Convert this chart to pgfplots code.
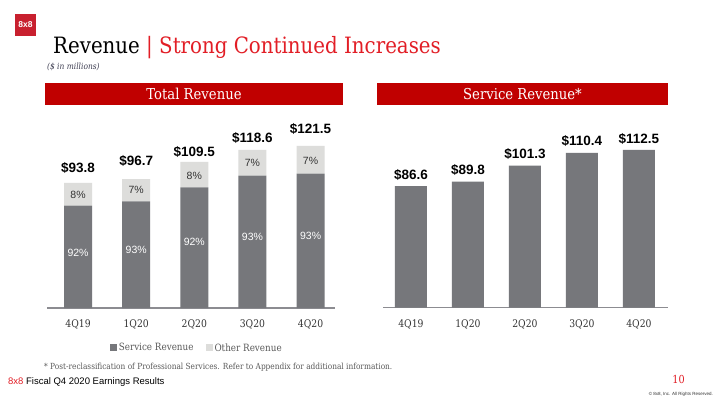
\documentclass[border=0pt]{standalone}
\usepackage{fontspec}
\usepackage{pgfplots}
\pgfplotsset{compat=1.18}
\setmainfont{DejaVu Serif}[FakeStretch=0.88]
\newfontfamily\sans{Liberation Sans}
\definecolor{barDark}{RGB}{118,119,123}
\definecolor{barLight}{RGB}{221,221,219}
\definecolor{hdrRed}{RGB}{192,0,0}
\definecolor{ttlRed}{RGB}{226,30,38}
\definecolor{logoRed}{RGB}{200,32,47}
\definecolor{axGray}{RGB}{140,140,145}
\definecolor{txtDark}{RGB}{51,51,51}
\definecolor{txtGray}{RGB}{89,89,89}
\definecolor{subDark}{RGB}{60,60,80}
\begin{document}
\begin{tikzpicture}
\path[fill=white] (0pt,0pt) rectangle (720pt,405pt);
% logo
\fill[logoRed] (15pt,369pt) rectangle (36pt,391pt);
\node[white,font=\sans\bfseries\fontsize{8.5}{9}\selectfont] at (25.5pt,380pt) {8x8};
% title
\node[anchor=base west, inner sep=0pt, font=\fontsize{22.5}{26}\selectfont] at (53pt,351pt) {Revenue \textcolor{ttlRed}{| Strong Continued Increases}};
\node[anchor=base west, inner sep=0pt, text=subDark, font=\itshape\fontsize{8.5}{9}\selectfont] at (47pt,335pt) {(\$ in millions)};
% headers
\fill[hdrRed] (45pt,300pt) rectangle (343pt,322pt);
\node[white, font=\fontsize{15}{17}\selectfont] at (194pt,311pt) {Total Revenue};
\fill[hdrRed] (377pt,300pt) rectangle (668pt,322pt);
\node[white, font=\fontsize{15}{17}\selectfont] at (522.5pt,311pt) {Service Revenue*};
% footnote & footer
\node[anchor=base west, inner sep=0pt, text=txtGray, font=\fontsize{8.4}{9}\selectfont] at (44pt,36pt) {* Post-reclassification of Professional Services. Refer to Appendix for additional information.};
\node[anchor=base west, inner sep=0pt, font=\sans\fontsize{9.5}{10}\selectfont] at (8pt,21pt) {\textcolor{ttlRed}{8x8} Fiscal Q4 2020 Earnings Results};
\node[anchor=base east, inner sep=0pt, text=ttlRed, font=\fontsize{11}{12}\selectfont] at (685pt,22pt) {10};
\node[anchor=base east, inner sep=0pt, text=txtDark, font=\sans\fontsize{4.5}{5}\selectfont] at (713pt,10pt) {\textcopyright{} 8x8, Inc. All Rights Reserved.};

% ---------- left chart ----------
\begin{axis}[
  at={(47pt,97pt)}, anchor=south west,
  width=288pt, height=186.7pt, scale only axis,
  xmin=-0.534, xmax=4.42, ymin=0, ymax=140,
  ybar stacked, bar width=28pt,
  axis y line=none, axis x line=bottom,
  x axis line style={-, draw=axGray, line width=1.3pt},
  xtick={0,1,2,3,4}, xticklabels={4Q19,1Q20,2Q20,3Q20,4Q20},
  major tick length=0pt,
  xticklabel style={font=\fontsize{10.5}{12}\selectfont, text=txtDark, yshift=-8.5pt},
  legend style={at={(0.52,-0.214)}, anchor=center, draw=none, fill=none, legend columns=2,
    font=\fontsize{10}{11}\selectfont, text=txtGray,
    /tikz/every even column/.append style={column sep=10pt}},
  legend image code/.code={\fill[#1] (0pt,-3.5pt) rectangle (7pt,3.5pt);},
  clip=false,
]
\addplot[fill=barDark, draw=none] coordinates {(0,76.7) (1,80.0) (2,90.5) (3,99.2) (4,100.7)};
\addlegendentry{Service Revenue}
\addplot[fill=barLight, draw=none] coordinates {(0,17.1) (1,16.7) (2,19.0) (3,19.4) (4,20.8)};
\addlegendentry{Other Revenue}
\end{axis}
% left labels
\begin{axis}[
  at={(47pt,97pt)}, anchor=south west,
  width=288pt, height=186.7pt, scale only axis,
  xmin=-0.534, xmax=4.42, ymin=0, ymax=140,
  hide axis, clip=false,
]
\addplot[draw=none, mark=none, nodes near coords={\$\pgfplotspointmeta}, point meta=explicit symbolic,
  every node near coord/.append style={anchor=base, inner sep=0pt, text=black, font=\sans\bfseries\fontsize{13.5}{14}\selectfont}]
  table[meta=lab] {
x y lab
0 101.3 93.8
1 106.5 96.7
2 113.5 109.5
3 124.0 118.6
4 130.5 121.5
};
\addplot[draw=none, mark=none, nodes near coords={\pgfplotspointmeta\%}, point meta=explicit symbolic,
  every node near coord/.append style={anchor=center, inner sep=0pt, text=white, font=\sans\fontsize{10.5}{12}\selectfont}]
  table[meta=lab] {
x y lab
0 41.5 92
1 43.5 93
2 49.5 92
3 53.5 93
4 54.2 93
};
\addplot[draw=none, mark=none, nodes near coords={\pgfplotspointmeta\%}, point meta=explicit symbolic,
  every node near coord/.append style={anchor=center, inner sep=0pt, text=txtDark, font=\sans\fontsize{10.5}{12}\selectfont}]
  table[meta=lab] {
x y lab
0 84.8 8
1 88.5 7
2 99.2 8
3 108.5 7
4 110.5 7
};
\end{axis}

% ---------- right chart ----------
\begin{axis}[
  at={(383pt,97.3pt)}, anchor=south west,
  width=285pt, height=196.4pt, scale only axis,
  xmin=-0.49, xmax=4.51, ymin=0, ymax=140,
  ybar, bar width=32pt,
  axis y line=none, axis x line=bottom,
  x axis line style={-, draw=axGray, line width=1.3pt},
  xtick={0,1,2,3,4}, xticklabels={4Q19,1Q20,2Q20,3Q20,4Q20},
  major tick length=0pt,
  xticklabel style={font=\fontsize{10.5}{12}\selectfont, text=txtDark, yshift=-8.5pt},
  clip=false,
]
\addplot[fill=barDark, draw=none] coordinates {(0,86.6) (1,89.8) (2,101.3) (3,110.4) (4,112.5)};
\end{axis}
\begin{axis}[
  at={(383pt,97.3pt)}, anchor=south west,
  width=285pt, height=196.4pt, scale only axis,
  xmin=-0.49, xmax=4.51, ymin=0, ymax=140,
  hide axis, clip=false,
]
\addplot[draw=none, mark=none, nodes near coords={\$\pgfplotspointmeta}, point meta=explicit symbolic,
  every node near coord/.append style={anchor=base, inner sep=0pt, text=black, font=\sans\bfseries\fontsize{13.5}{14}\selectfont}]
  table[meta=lab] {
x y lab
0 91.5 86.6
1 94.6 89.8
2 106.5 101.3
3 115.3 110.4
4 117.2 112.5
};
\end{axis}
\end{tikzpicture}
\end{document}
